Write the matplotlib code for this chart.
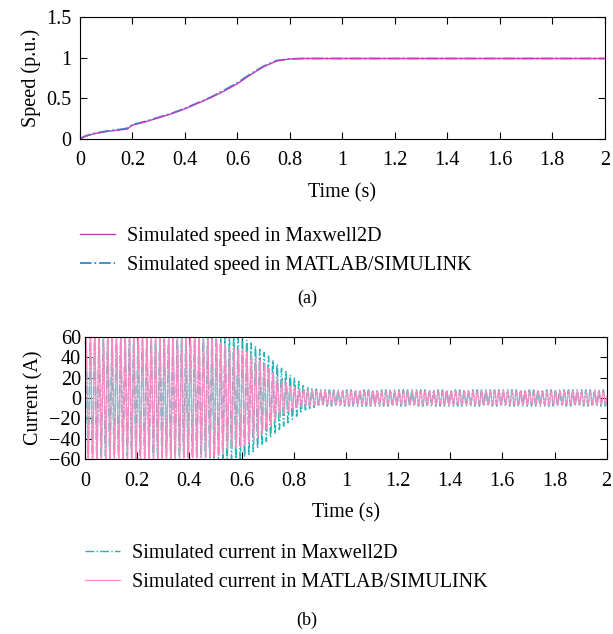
import numpy as np
import matplotlib.pyplot as plt

plt.rcParams['font.family'] = ['Liberation Serif', 'DejaVu Serif']
plt.rcParams['font.size'] = 14.5
plt.rcParams['axes.unicode_minus'] = True

# speed (p.u.)
t_speed = [0, 0.02, 0.05, 0.1, 0.15, 0.18, 0.2, 0.25, 0.3, 0.35, 0.4, 0.45,
           0.5, 0.55, 0.6, 0.65, 0.7, 0.75, 0.8, 0.85, 2.0]
speed_maxwell = [0, 0.03, 0.06, 0.09, 0.11, 0.12, 0.17, 0.21, 0.26, 0.31, 0.37,
                 0.44, 0.51, 0.59, 0.68, 0.79, 0.89, 0.96, 0.985, 0.99, 0.99]
speed_matlab = [0, 0.035, 0.065, 0.095, 0.115, 0.13, 0.175, 0.215, 0.265, 0.315,
                0.375, 0.445, 0.515, 0.6, 0.69, 0.8, 0.895, 0.965, 0.985, 0.99, 0.99]

# current envelope (A), ~60 Hz phase current
t_env = [0, 0.1, 0.3, 0.5, 0.55, 0.6, 0.65, 0.7, 0.75, 0.8, 0.85, 0.9, 2.0]
env_maxwell = [58, 57, 57, 59, 60, 60, 52, 42, 30, 20, 11, 8, 8]
env_matlab = [60, 60, 60, 58, 50, 48, 42, 30, 18, 10, 8, 7, 7]
f_supply = 60

t = np.linspace(0, 2, 6001)
i_maxwell = np.interp(t, t_env, env_maxwell) * np.sin(2 * np.pi * f_supply * t + 0.3)
i_matlab = np.interp(t, t_env, env_matlab) * np.sin(2 * np.pi * f_supply * t)

xt = np.arange(0, 2.01, 0.2)
xt_labels = ['0', '0.2', '0.4', '0.6', '0.8', '1', '1.2', '1.4', '1.6', '1.8', '2']

fig = plt.figure(figsize=(6.13, 6.34), dpi=100)

def style(ax):
    ax.tick_params(direction='in', top=True, right=True, length=5)
    ax.tick_params(axis='x', pad=9)
    ax.tick_params(axis='y', pad=6)
    for s in ax.spines.values():
        s.set_linewidth(0.8)

leg_kw = dict(loc='upper left', frameon=False, handlelength=1.75,
              handletextpad=0.6, labelspacing=0.5, borderpad=0, borderaxespad=0)

# (a) speed
ax1 = fig.add_axes([0.1305, 0.781, 0.856, 0.192])
ax1.plot(t_speed, speed_matlab, color='#2b8ad0', ls='-.', lw=1.3,
         label='Simulated speed in MATLAB/SIMULINK')
ax1.plot(t_speed, speed_maxwell, color='#c040c0', ls='-', lw=1.0,
         label='Simulated speed in Maxwell2D')
ax1.set_xlim(0, 2)
ax1.set_ylim(0, 1.5)
ax1.set_xticks(xt)
ax1.set_xticklabels(xt_labels)
ax1.set_yticks([0, 0.5, 1, 1.5])
ax1.set_yticklabels(['0', '0.5', '1', '1.5'])
ax1.set_xlabel('Time (s)', labelpad=9)
ax1.set_ylabel('Speed (p.u.)')
style(ax1)
h, l = ax1.get_legend_handles_labels()
fig.legend(h[::-1], l[::-1], bbox_to_anchor=(0.1305, 0.642), **leg_kw)
fig.text(0.501, 0.53, '(a)', ha='center', va='center', fontsize=13)

# (b) current
ax2 = fig.add_axes([0.1387, 0.276, 0.851, 0.1925])
ax2.plot(t, i_maxwell, color='#20b4b4', ls='-.', lw=1.0,
         label='Simulated current in Maxwell2D')
ax2.plot(t, i_matlab, color='#f48cc4', ls='-', lw=0.9,
         label='Simulated current in MATLAB/SIMULINK')
ax2.set_xlim(0, 2)
ax2.set_ylim(-60, 60)
ax2.set_xticks(xt)
ax2.set_xticklabels(xt_labels)
ax2.set_yticks(np.arange(-60, 61, 20))
ax2.set_yticklabels(['−60', '−40', '−20', '0', '20', '40', '60'])
ax2.set_xlabel('Time (s)', labelpad=9)
ax2.set_ylabel('Current (A)')
style(ax2)
ax2.tick_params(axis='y', pad=3)
fig.legend(*ax2.get_legend_handles_labels(), bbox_to_anchor=(0.1387, 0.142), **leg_kw)
fig.text(0.501, 0.022, '(b)', ha='center', va='center', fontsize=13)

fig.savefig('out.png', dpi=100)
